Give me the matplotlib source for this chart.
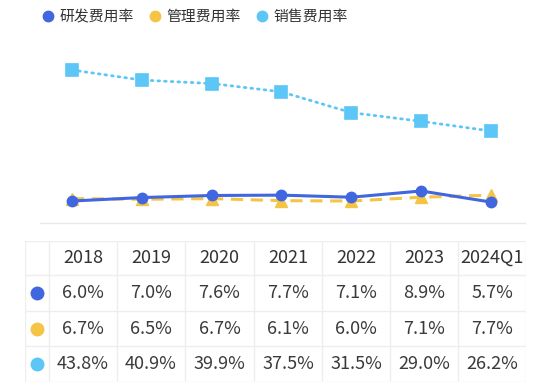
import matplotlib
matplotlib.use('Agg')
import matplotlib.pyplot as plt
from matplotlib.lines import Line2D

plt.rcParams['font.family'] = ['Noto Sans CJK SC', 'DejaVu Sans']

years = ['2018', '2019', '2020', '2021', '2022', '2023', '2024Q1']
yanfa = [6.0, 7.0, 7.6, 7.7, 7.1, 8.9, 5.7]
guanli = [6.7, 6.5, 6.7, 6.1, 6.0, 7.1, 7.7]
xiaoshou = [43.8, 40.9, 39.9, 37.5, 31.5, 29.0, 26.2]
names = ['研发费用率', '管理费用率', '销售费用率']
colors = ['#4066e0', '#f5c445', '#5cc6f7']

W, H = 550, 386
fig = plt.figure(figsize=(W / 100, H / 100), dpi=100)

# chart area
ax = fig.add_axes([40 / W, (H - 223) / H, 485 / W, 183 / H])
x = list(range(len(years)))
ax.plot(x, xiaoshou, color=colors[2], lw=2.0, ls=(0, (0.6, 1.8)), dash_capstyle='round',
        marker='s', ms=9, mec=colors[2], mew=1.2, zorder=3)
ax.plot(x, guanli, color=colors[1], lw=2.2, ls=(0, (4, 2.5)),
        marker='^', ms=8.5, zorder=3)
ax.plot(x, yanfa, color=colors[0], lw=2.2, marker='o', ms=7.5, zorder=4)
ax.set_xlim(-0.458, 6.487)
ax.set_ylim(-0.34, 52.46)
for s in ['top', 'left', 'right']:
    ax.spines[s].set_visible(False)
ax.spines['bottom'].set_color('#e8e8e8')
ax.spines['bottom'].set_linewidth(1)
ax.set_xticks([])
ax.set_yticks([])

# legend
handles = [Line2D([], [], ls='', marker='o', ms=7.5, color=c) for c in colors]
fig.legend(handles, names, loc='center left', bbox_to_anchor=(27 / W, 1 - 17 / H),
           ncol=3, frameon=False, fontsize=10.7, handletextpad=0.3, columnspacing=0.9,
           handlelength=1.0, labelcolor='#333333')

# table
tb = fig.add_axes([25 / W, 4 / H, 501 / W, 141 / H])
tb.set_xlim(0, 501)
tb.set_ylim(141, 0)
tb.axis('off')
xe = [0, 24, 92, 160, 229, 297, 365, 433, 501]
ye = [0, 34, 70, 105, 141]
grid = '#eeeeee'
for xv in xe:
    tb.plot([xv, xv], [ye[0], ye[-1]], color=grid, lw=1)
for yv in ye:
    tb.plot([xe[0], xe[-1]], [yv, yv], color=grid, lw=1)

def cx(j):
    return (xe[j + 1] + xe[j + 2]) / 2

def cy(r):
    return (ye[r] + ye[r + 1]) / 2

for j, y in enumerate(years):
    tb.text(cx(j), cy(0), y, ha='center', va='center', fontsize=13, color='#333333')
for r, (vals, c) in enumerate(zip([yanfa, guanli, xiaoshou], colors), start=1):
    tb.plot([12], [cy(r)], 'o', ms=9, color=c)
    for j, v in enumerate(vals):
        tb.text(cx(j), cy(r), f'{v:.1f}%', ha='center', va='center', fontsize=13,
                color='#3a3a3a')

fig.savefig('out.png', dpi=100)
